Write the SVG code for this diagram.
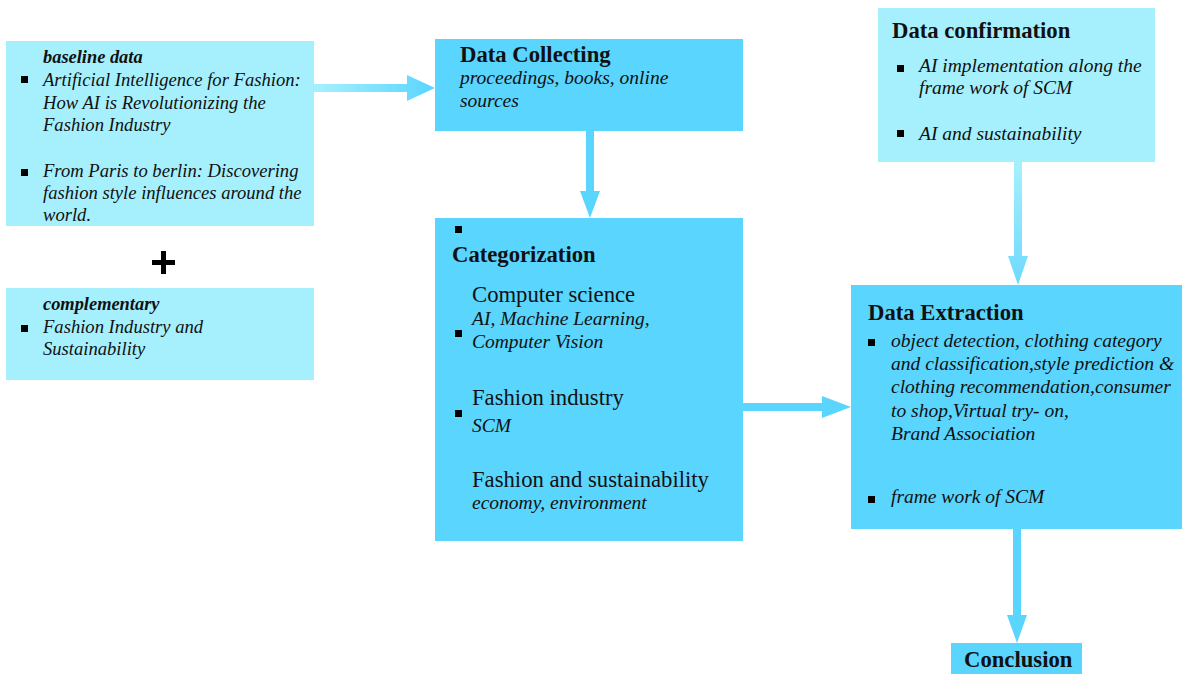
<svg xmlns="http://www.w3.org/2000/svg" width="1182" height="674" viewBox="0 0 1182 674">
<defs>
<style>
.light{fill:#a6f0fd}
.dark{fill:#5ad5fe}
.t{font-family:"Liberation Serif","Times New Roman",serif;fill:#111}
.it{font-style:italic;font-size:19.5px}
.its{font-style:italic;font-size:18.6px}
.h{font-weight:bold;font-size:22.7px}
.reg{font-size:22.7px}
.bi{font-weight:bold;font-style:italic;font-size:18.4px}
.b{fill:#000}
</style>
<linearGradient id="gH" x1="0" y1="0" x2="1" y2="0">
<stop offset="0" stop-color="#a6f0fd"/><stop offset="1" stop-color="#5ad5fe"/>
</linearGradient>
<linearGradient id="gV" x1="0" y1="0" x2="0" y2="1">
<stop offset="0" stop-color="#a6f0fd"/><stop offset="1" stop-color="#6ed9fe"/>
</linearGradient>
</defs>
<rect width="1182" height="674" fill="#fff"/>

<g id="connectors">
<polygon fill="url(#gH)" points="314,84 407,84 407,75 435,88 407,101 407,92 314,92"/>
<polygon class="dark" points="586,131 594,131 594,191 600,191 590,218 580,191 586,191"/>
<polygon fill="url(#gV)" points="1014,162 1022,162 1022,256 1028,256 1018,285 1008,256 1014,256"/>
<polygon class="dark" points="743,403 822,403 822,396 851,407 822,418 822,411 743,411"/>
<polygon class="dark" points="1013,529 1021,529 1021,615 1027,615 1017,643 1007,615 1013,615"/>
</g>

<g id="baseline">
<rect class="light" x="6" y="41" width="308" height="185"/>
<text class="t bi" x="43" y="63">baseline data</text>
<rect class="b" x="21" y="76" width="7" height="7"/>
<text class="t its" x="43" y="86">Artificial Intelligence for Fashion:</text>
<text class="t its" x="43" y="109">How AI is Revolutionizing the</text>
<text class="t its" x="43" y="131">Fashion Industry</text>
<rect class="b" x="21" y="169" width="7" height="7"/>
<text class="t its" x="43" y="177">From Paris to berlin: Discovering</text>
<text class="t its" x="43" y="199">fashion style influences around the</text>
<text class="t its" x="43" y="221">world.</text>
</g>

<g id="plus">
<rect class="b" x="152" y="260" width="23" height="5"/>
<rect class="b" x="161" y="251" width="5" height="23"/>
</g>

<g id="complementary">
<rect class="light" x="6" y="288" width="308" height="92"/>
<text class="t bi" x="43" y="310">complementary</text>
<rect class="b" x="21" y="325" width="7" height="7"/>
<text class="t its" x="43" y="333">Fashion Industry and</text>
<text class="t its" x="43" y="355">Sustainability</text>
</g>

<g id="collecting">
<rect class="dark" x="435" y="39" width="308" height="92"/>
<text class="t h" x="460" y="62">Data Collecting</text>
<text class="t it" x="460" y="84">proceedings, books, online</text>
<text class="t it" x="460" y="107">sources</text>
</g>

<g id="categorization">
<rect class="dark" x="435" y="218" width="308" height="323"/>
<rect class="b" x="455" y="226" width="7" height="7"/>
<text class="t h" x="452" y="262">Categorization</text>
<text class="t reg" x="472" y="302">Computer science</text>
<rect class="b" x="455" y="330" width="7" height="7"/>
<text class="t it" x="472" y="325">AI, Machine Learning,</text>
<text class="t it" x="472" y="348">Computer Vision</text>
<text class="t reg" x="472" y="405">Fashion industry</text>
<rect class="b" x="455" y="410" width="7" height="7"/>
<text class="t it" x="472" y="432">SCM</text>
<text class="t reg" x="472" y="487">Fashion and sustainability</text>
<text class="t it" x="472" y="509">economy, environment</text>
</g>

<g id="confirmation">
<rect class="light" x="878" y="8" width="277" height="154"/>
<text class="t h" x="892" y="38">Data confirmation</text>
<rect class="b" x="897" y="65" width="7" height="7"/>
<text class="t it" x="919" y="72">AI implementation along the</text>
<text class="t it" x="919" y="94">frame work of SCM</text>
<rect class="b" x="897" y="130" width="7" height="7"/>
<text class="t it" x="919" y="140">AI and sustainability</text>
</g>

<g id="extraction">
<rect class="dark" x="851" y="285" width="331" height="244"/>
<text class="t h" x="868" y="320">Data Extraction</text>
<rect class="b" x="868" y="339" width="7" height="7"/>
<text class="t it" x="891" y="347">object detection, clothing category</text>
<text class="t it" x="891" y="370">and classification,style prediction &amp;</text>
<text class="t it" x="891" y="393">clothing recommendation,consumer</text>
<text class="t it" x="891" y="417">to shop,Virtual try- on,</text>
<text class="t it" x="891" y="440">Brand Association</text>
<rect class="b" x="868" y="496" width="7" height="7"/>
<text class="t it" x="891" y="503">frame work of SCM</text>
</g>

<g id="conclusion">
<rect class="dark" x="951" y="643" width="131" height="31"/>
<text class="t h" x="964" y="667">Conclusion</text>
</g>
</svg>
